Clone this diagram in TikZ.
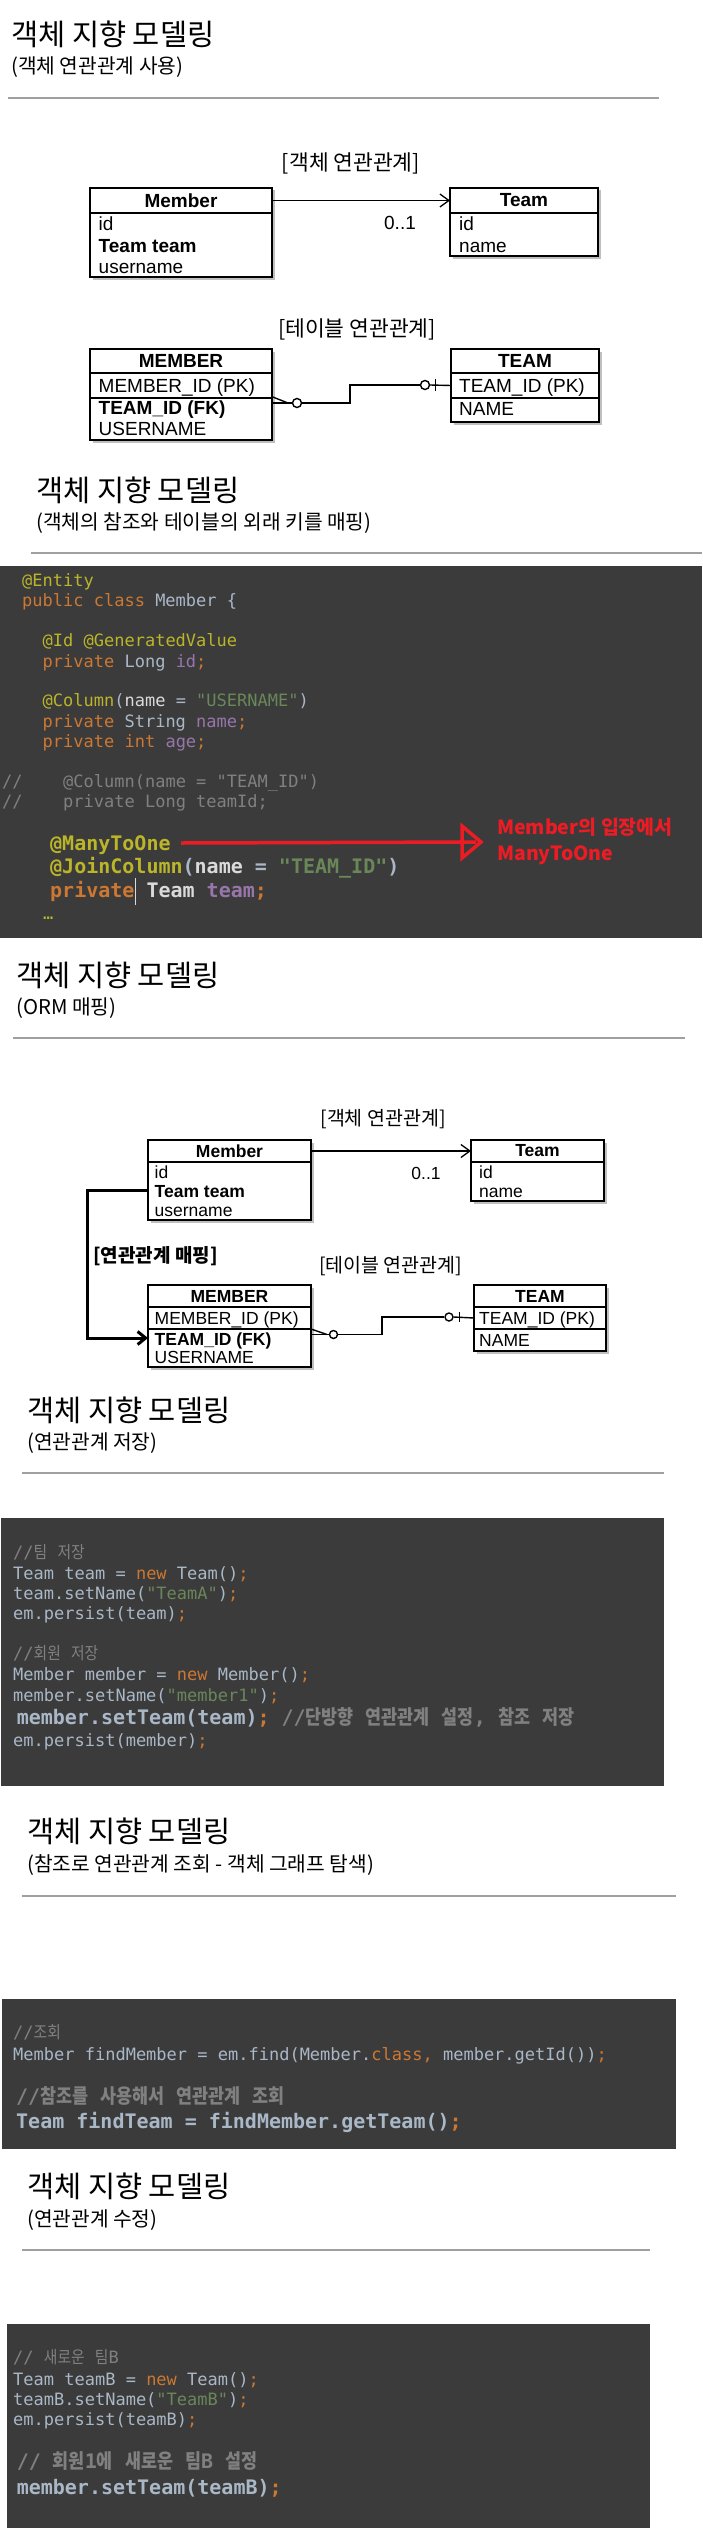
\documentclass[tikz,border=0pt]{standalone}
\usepackage{fontspec}
\setmainfont{Liberation Sans}
\newfontfamily\kr{Noto Sans CJK KR}
\newfontfamily\krc[FakeStretch=0.87]{Noto Sans CJK KR}
\newfontfamily\codefont{DejaVu Sans Mono}
\usetikzlibrary{arrows.meta}
\definecolor{codebg}{HTML}{3B3B3B}
\definecolor{ckw}{HTML}{CC7832}
\definecolor{cann}{HTML}{BBB529}
\definecolor{cstr}{HTML}{6A8759}
\definecolor{cpur}{HTML}{9876AA}
\definecolor{ccom}{HTML}{808080}
\definecolor{ctxt}{HTML}{A9B7C6}
\definecolor{cwh}{HTML}{DADADA}
\definecolor{cred}{HTML}{ED1C24}
\definecolor{rulec}{HTML}{A0A0A0}
\newcommand\Kw[1]{\textcolor{ckw}{#1}}
\newcommand\An[1]{\textcolor{cann}{#1}}
\newcommand\St[1]{\textcolor{cstr}{#1}}
\newcommand\Pu[1]{\textcolor{cpur}{#1}}
\newcommand\Cm[1]{\textcolor{ccom}{#1}}
\newcommand\Wh[1]{\textcolor{cwh}{#1}}
\begin{document}
\begin{tikzpicture}[x=1pt,y=-1pt,
  ttl/.style={anchor=west,inner sep=0,font=\kr\fontsize{29.5}{29.5}\selectfont},
  sub/.style={anchor=west,inner sep=0,font=\kr\fontsize{20.3}{20.3}\selectfont},
  rulel/.style={draw=rulec,line width=1.3},
  krlab/.style={inner sep=0,font=\kr\fontsize{21.5}{21.5}\selectfont},
  krlabs/.style={inner sep=0,font=\kr\fontsize{19.5}{19.5}\selectfont},
  cell/.style={draw,line width=1.6,fill=white,inner sep=0,outer sep=0,
    preaction={fill=black!25,transform canvas={xshift=2.5pt,yshift=-2.5pt}}},
  hdra/.style={font=\bfseries\fontsize{19}{19}\selectfont},
  hdrb/.style={font=\bfseries\fontsize{17.5}{17.5}\selectfont},
  rowa/.style={anchor=base west,inner sep=0,font=\fontsize{19}{19}\selectfont},
  rowab/.style={rowa,font=\bfseries\fontsize{19}{19}\selectfont},
  rowb/.style={anchor=base west,inner sep=0,font=\fontsize{17.5}{17.5}\selectfont},
  rowbb/.style={rowb,font=\bfseries\fontsize{17.5}{17.5}\selectfont},
  assoc/.style={line width=1.3,-{Straight Barb[length=9pt,width=13pt]}},
  erline/.style={line width=1.4},
  erc/.style={circle,draw,line width=1.4,fill=white,inner sep=0,minimum size=#1},
  code/.style={anchor=base west,inner sep=0,text=ctxt,font=\codefont\fontsize{17}{17}\selectfont},
  codeb/.style={code,font=\codefont\bfseries\fontsize{20}{20}\selectfont},
  redtxt/.style={anchor=west,inner sep=0,text=cred,font=\kr\bfseries\fontsize{19.5}{19.5}\selectfont}
]
\useasboundingbox (0,0) rectangle (702,2534);
\fill[white] (0,0) rectangle (702,2534);

% ================= Section 1 =================
\node[ttl] (t1) at (11,34.5) {객체 지향 모델링};
\node[sub] (s1) at (11,67.5) {(객체 연관관계 사용)};
\draw[rulel] (8,98) -- (659,98);

\node[krlab] (lab1) at (351,163) {[객체 연관관계]};
\node[cell,hdra,minimum width=182,minimum height=25] (m1h) at (181,200.5) {Member};
\node[cell,minimum width=182,minimum height=64,anchor=north] (m1b) at (m1h.south) {};
\node[rowa] (m1r1) at (98.5,230) {id};
\node[rowab] (m1r2) at (98.5,252) {Team team};
\node[rowa] (m1r3) at (98.5,273) {username};

\node[cell,hdra,minimum width=148,minimum height=25] (t1h) at (524,200.5) {Team};
\node[cell,minimum width=148,minimum height=43,anchor=north] (t1b) at (t1h.south) {};
\node[rowa] (t1r1) at (459,230) {id};
\node[rowa] (t1r2) at (459,252) {name};
\draw[assoc] (m1h.east) -- (t1h.west);
\node[rowa,anchor=center] (mult1) at (400,223) {0..1};

% ================= Section 2 =================
\node[krlab] (lab2) at (357,329) {[테이블 연관관계]};
\node[cell,hdra,minimum width=182,minimum height=24] (m2h) at (181,361) {MEMBER};
\node[cell,minimum width=182,minimum height=25,anchor=north] (m2r1) at (m2h.south) {};
\node[cell,minimum width=182,minimum height=42,anchor=north] (m2r2) at (m2r1.south) {};
\node[rowa] (m2x1) at (98.5,392) {MEMBER\_ID (PK)};
\node[rowab] (m2x2) at (98.5,414) {TEAM\_ID (FK)};
\node[rowa] (m2x3) at (98.5,435.5) {USERNAME};

\node[cell,hdra,minimum width=148,minimum height=24] (t2h) at (525,361) {TEAM};
\node[cell,minimum width=148,minimum height=25,anchor=north] (t2r1) at (t2h.south) {};
\node[cell,minimum width=148,minimum height=24,anchor=north] (t2r2) at (t2r1.south) {};
\node[rowa] (t2x1) at (459,392) {TEAM\_ID (PK)};
\node[rowa] (t2x2) at (459,415) {NAME};

\coordinate (cf2) at (272,403);
\node[erc=9] (c2a) at (297,403) {};
\node[erc=9] (c2b) at (425,385) {};
\draw[erline] (cf2) ++(0,-6.3) -- (288,403) -- ([yshift=6.3]cf2);
\draw[erline] (cf2) -- (c2a.west);
\draw[erline] (c2a.east) -- (350,403) |- (c2b.west);
\draw[erline] (c2b.east) -- (t2r1.west);
\draw[erline] ([xshift=5.5]c2b.east) ++(0,-6) -- ++(0,12);

\node[ttl] (t2) at (36,490) {객체 지향 모델링};
\node[sub] (s2) at (36,523) {(객체의 참조와 테이블의 외래 키를 매핑)};
\draw[rulel] (31,553) -- (702,553);

% ================= Section 3: code A =================
\fill[codebg] (0,566) rectangle (702,938);
\node[code] (a1) at (22,586) {\An{@Entity}};
\node[code] (a2) at (22,606) {\Kw{public class} Member \{};
\node[code] (a3) at (42.5,646) {\An{@Id @GeneratedValue}};
\node[code] (a4) at (42.5,667) {\Kw{private} Long \Pu{id}\Kw{;}};
\node[code] (a5) at (42.5,706) {\An{@Column}(\Wh{name} = \St{"USERNAME"})};
\node[code] (a6) at (42.5,727) {\Kw{private} String \Pu{name}\Kw{;}};
\node[code] (a7) at (42.5,747) {\Kw{private int} \Pu{age}\Kw{;}};
\node[code,text=ccom] (a8a) at (2,787) {//};
\node[code,text=ccom] (a8) at (63,787) {@Column(name = "TEAM\_ID")};
\node[code,text=ccom] (a9a) at (2,807) {//};
\node[code,text=ccom] (a9) at (63,807) {private Long teamId;};
\node[codeb] (a10) at (50,850) {\An{@ManyToOne}};
\node[codeb] (a11) at (50,873) {\An{@JoinColumn}(\Wh{name} = \St{"TEAM\_ID"})};
\node[codeb] (a12) at (50,897) {\Kw{private} \Wh{Team} \Pu{team}\Kw{;}};
\draw[cwh,line width=0.8] (135.5,878) -- (135.5,905);
\node[code,text=cann] (a13) at (43,919) {…};

\coordinate (rs) at (181,843);
\coordinate (rt) at (481,842);
\draw[cred,line width=3.5] (rs) -- ([xshift=-5]rt);
\draw[cred,line width=3.5,line join=miter] (rt) -- (462,826) -- (462,858) -- cycle;
\node[redtxt] (rx1) at (497,827) {Member의 입장에서};
\node[redtxt] (rx2) at (497,855) {ManyToOne};

% ================= Section 4: ORM =================
\node[ttl] (t3) at (16,975) {객체 지향 모델링};
\node[sub] (s3) at (16,1008) {(ORM 매핑)};
\draw[rulel] (13,1038) -- (685,1038);

\node[krlabs] (lab3) at (383,1119) {[객체 연관관계]};
\node[cell,hdrb,minimum width=163,minimum height=22] (m3h) at (229.5,1151) {Member};
\node[cell,minimum width=163,minimum height=58,anchor=north] (m3b) at (m3h.south) {};
\node[rowb] (m3r1) at (154.5,1178) {id};
\node[rowbb] (m3r2) at (154.5,1197) {Team team};
\node[rowb] (m3r3) at (154.5,1216) {username};

\node[cell,hdrb,minimum width=133,minimum height=22] (t3h) at (537.5,1151) {Team};
\node[cell,minimum width=133,minimum height=39,anchor=north] (t3b) at (t3h.south) {};
\node[rowb] (t3r1) at (479,1178) {id};
\node[rowb] (t3r2) at (479,1197) {name};
\draw[assoc] (m3h.east) -- (t3h.west);
\node[rowb,anchor=center] (mult3) at (426,1173) {0..1};

\node[cell,hdrb,minimum width=163,minimum height=22] (m4h) at (229.5,1296) {MEMBER};
\node[cell,minimum width=163,minimum height=22,anchor=north] (m4r1) at (m4h.south) {};
\node[cell,minimum width=163,minimum height=38,anchor=north] (m4r2) at (m4r1.south) {};
\node[rowb] (m4x1) at (154.5,1324) {MEMBER\_ID (PK)};
\node[rowbb] (m4x2) at (154.5,1345) {TEAM\_ID (FK)};
\node[rowb] (m4x3) at (154.5,1363) {USERNAME};

\node[cell,hdrb,minimum width=132,minimum height=22] (t4h) at (540,1296) {TEAM};
\node[cell,minimum width=132,minimum height=22,anchor=north] (t4r1) at (t4h.south) {};
\node[cell,minimum width=132,minimum height=22,anchor=north] (t4r2) at (t4r1.south) {};
\node[rowb] (t4x1) at (479,1324) {TEAM\_ID (PK)};
\node[rowb] (t4x2) at (479,1346) {NAME};

\coordinate (map1) at (148,1190);
\coordinate (map2) at (148,1338);
\draw[line width=3,-{Straight Barb[length=8pt,width=13pt]}] (map1) -- (87,1190) |- (map2);
\node[anchor=west,inner sep=0,font=\kr\bfseries\fontsize{19}{19}\selectfont] (lab4) at (93,1256) {[연관관계 매핑]};
\node[anchor=west,inner sep=0,font=\kr\fontsize{19.5}{19.5}\selectfont] (lab5) at (319,1266) {[테이블 연관관계]};

\coordinate (cf4) at (311,1334.5);
\node[erc=8] (c4a) at (333.5,1334.5) {};
\node[erc=8] (c4b) at (449,1317) {};
\draw[erline] (cf4) ++(0,-5.5) -- (327,1334.5) -- ([yshift=5.5]cf4);
\draw[erline] (cf4) -- (c4a.west);
\draw[erline] (c4a.east) -- (382,1334.5) |- (c4b.west);
\draw[erline] (c4b.east) -- (t4r1.west);
\draw[erline] ([xshift=6]c4b.east) ++(0,-5) -- ++(0,10);

% ================= Section 5 =================
\node[ttl] (t5) at (27,1410) {객체 지향 모델링};
\node[sub] (s5) at (27,1443) {(연관관계 저장)};
\draw[rulel] (22,1473) -- (664,1473);

\fill[codebg] (1,1518) rectangle (664,1786);
\node[code,text=ccom] (b1) at (13,1558) {//{\krc 팀} {\krc 저장}};
\node[code] (b2) at (13,1579) {Team team = \Kw{new} Team()\Kw{;}};
\node[code] (b3) at (13,1599) {team.setName(\St{"TeamA"})\Kw{;}};
\node[code] (b4) at (13,1619) {em.persist(team)\Kw{;}};
\node[code,text=ccom] (b5) at (13,1659) {//{\krc 회원} {\krc 저장}};
\node[code] (b6) at (13,1680) {Member member = \Kw{new} Member()\Kw{;}};
\node[code] (b7) at (13,1701) {member.setName(\St{"member1"})\Kw{;}};
\node[codeb] (b8) at (16.6,1724) {member.setTeam(team)\Kw{;} \Cm{//{\krc 단방향} {\krc 연관관계} {\krc 설정}, {\krc 참조} {\krc 저장}}};
\node[code] (b9) at (13,1746) {em.persist(member)\Kw{;}};

% ================= Section 6 =================
\node[ttl] (t6) at (27,1831) {객체 지향 모델링};
\node[sub] (s6) at (27,1865) {(참조로 연관관계 조회 - 객체 그래프 탐색)};
\draw[rulel] (22,1896) -- (676,1896);

\fill[codebg] (2,1999) rectangle (676,2149);
\node[code,text=ccom] (c1) at (13,2038) {//{\krc 조회}};
\node[code] (c2) at (13,2060) {Member findMember = em.find(Member.\Kw{class,} member.getId())\Kw{;}};
\node[codeb,text=ccom] (c3) at (16,2103) {//{\krc 참조를} {\krc 사용해서} {\krc 연관관계} {\krc 조회}};
\node[codeb] (c4) at (16,2128) {Team findTeam = findMember.getTeam()\Kw{;}};

% ================= Section 7 =================
\node[ttl] (t7) at (27,2186) {객체 지향 모델링};
\node[sub] (s7) at (27,2220) {(연관관계 수정)};
\draw[rulel] (22,2250) -- (650,2250);

\fill[codebg] (7,2324) rectangle (650,2528);
\node[code,text=ccom] (d1) at (13,2363) {// {\krc 새로운} {\krc 팀}B};
\node[code] (d2) at (13,2385) {Team teamB = \Kw{new} Team()\Kw{;}};
\node[code] (d3) at (13,2405) {teamB.setName(\St{"TeamB"})\Kw{;}};
\node[code] (d4) at (13,2425) {em.persist(teamB)\Kw{;}};
\node[codeb,text=ccom] (d5) at (16.6,2468) {// {\krc 회원}1{\krc 에} {\krc 새로운} {\krc 팀}B {\krc 설정}};
\node[codeb] (d6) at (16.6,2494) {member.setTeam(teamB)\Kw{;}};
\end{tikzpicture}
\end{document}
